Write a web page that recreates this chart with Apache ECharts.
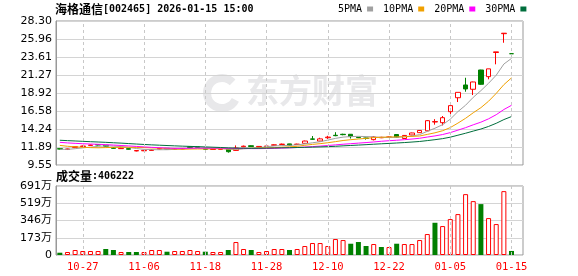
<!DOCTYPE html>
<html>
<head>
<meta charset="utf-8">
<script src="https://cdn.jsdelivr.net/npm/echarts@6/dist/echarts.min.js"></script>
<style>
html, body { margin: 0; padding: 0; background: #fff; }
#main { width: 578px; height: 276px; }
</style>
</head>
<body>
<div id="main"></div>
<script>
// trading days shown
var dates = ['10-22','10-23','10-24','10-27','10-28','10-29','10-30','10-31',
  '11-03','11-04','11-05','11-06','11-07','11-10','11-11','11-12','11-13','11-14',
  '11-17','11-18','11-19','11-20','11-21','11-24','11-25','11-26','11-27','11-28',
  '12-01','12-02','12-03','12-04','12-05','12-08','12-09','12-10','12-11','12-12',
  '12-15','12-16','12-17','12-18','12-19','12-22','12-23','12-24','12-25','12-26',
  '12-29','12-30','12-31','01-05','01-06','01-07','01-08','01-09','01-12','01-13',
  '01-14','01-15'];

var opens = [11.68,11.58,11.85,11.95,12.10,12.20,12.12,11.80,11.68,11.68,
  11.38,11.40,11.45,11.62,11.72,11.58,11.64,11.90,11.90,11.72,
  11.57,11.60,11.60,11.45,11.92,12.06,11.90,11.95,12.12,12.22,
  12.30,12.22,12.37,12.95,12.67,13.10,13.42,13.55,13.55,13.16,
  13.06,12.85,13.10,13.15,13.52,13.00,13.46,13.76,14.00,15.15,
  15.06,16.49,18.31,19.97,19.41,21.92,21.05,24.20,26.65,24.04];
var closes = [11.62,11.64,11.93,12.02,12.15,12.16,12.00,11.72,11.74,11.60,
  11.43,11.46,11.50,11.70,11.62,11.65,11.70,11.85,11.86,11.60,
  11.62,11.64,11.28,11.75,12.00,11.96,11.97,12.02,12.18,12.27,
  12.10,12.27,12.67,12.90,12.95,13.18,13.37,13.50,13.25,13.11,
  13.02,13.20,13.15,13.20,13.17,13.40,13.72,14.05,15.32,15.20,
  15.71,17.28,19.01,19.45,20.36,20.06,22.07,24.28,26.71,24.04];
var lows = [11.58,11.50,11.82,11.90,12.06,12.10,11.96,11.68,11.64,11.55,
  11.33,11.36,11.40,11.58,11.58,11.55,11.60,11.80,11.82,11.56,
  11.54,11.58,11.16,11.40,11.88,11.92,11.86,11.92,12.08,12.18,
  12.05,12.18,12.33,12.82,12.60,12.95,13.30,13.42,13.00,13.05,
  12.85,12.75,13.05,13.10,13.12,12.95,13.42,13.72,13.95,14.80,
  14.70,15.97,17.75,19.09,18.66,20.00,20.71,22.66,25.47,24.04];
var highs = [11.72,11.68,11.97,12.08,12.20,12.26,12.16,11.84,11.80,11.70,
  11.48,11.50,11.58,11.78,11.76,11.70,11.75,11.93,11.92,11.76,
  11.66,11.68,11.62,12.10,12.08,12.10,12.00,12.06,12.24,12.34,
  12.32,12.32,12.72,13.32,13.10,13.35,13.82,13.62,13.58,13.20,
  13.10,13.30,13.22,13.26,13.55,13.45,13.76,14.10,15.40,15.52,
  15.93,17.28,19.01,20.91,20.40,21.95,22.07,24.28,26.71,24.04];
// volume, shares (手)
var volumes = [230000,300000,500000,400000,400000,400000,600000,500000,300000,300000,
  300000,300000,500000,500000,330000,400000,400000,500000,400000,330000,
  300000,300000,500000,1300000,600000,500000,300000,400000,600000,600000,
  500000,600000,900000,1200000,1200000,900000,1600000,1500000,1130000,1300000,
  900000,1100000,800000,800000,1130000,1100000,1100000,1500000,2100000,3230000,
  2900000,3600000,4100000,6100000,5400000,5100000,3700000,3100000,6400000,406222];
// closes of the 29 sessions before 10-22 (only feed the moving averages)
var priorCloses = [13.10,13.25,13.40,13.50,13.45,13.30,13.35,13.20,13.30,13.25,
  13.15,13.05,13.00,12.95,12.90,12.85,12.80,12.85,12.75,12.70,
  12.75,12.70,12.60,12.55,12.40,11.75,11.45,11.50,11.70];

var priceTicks = ['9.55','11.89','14.24','16.58','18.92','21.27','23.61','25.96','28.30'];
var volTicks = ['0','173万','346万','519万','691万'];

var maNames = ['5PMA','10PMA','20PMA','30PMA'];
var maDays = [5,10,20,30];
var maColors = ['#a0a0a0','#f0a000','#ff00ff','#006e3c'];

function calcMA(n) {
  var all = priorCloses.concat(closes);
  var off = priorCloses.length;
  return closes.map(function (c, i) {
    var s = 0;
    for (var k = 0; k < n; k++) s += all[off + i - k];
    return +(s / n).toFixed(3);
  });
}

var kData = dates.map(function (d, i) {
  return [opens[i], closes[i], lows[i], highs[i]];
});

var volData = volumes.map(function (v, i) {
  var prev = i === 0 ? priorCloses[priorCloses.length - 1] : closes[i - 1];
  if (closes[i] >= prev) {
    return { value: v, itemStyle: { color: '#ffffff', borderColor: '#ff0000', borderWidth: 1 } };
  }
  return { value: v, itemStyle: { color: '#008000', borderColor: '#008000', borderWidth: 0 } };
});

var showIdx = function (i) { return i >= 3 && (i - 3) % 8 === 0 && i < dates.length; };
var markDates = dates.filter(function (d, i) { return showIdx(i); });
var cats = dates.concat(['']);

var vLines = {
  silent: true,
  symbol: 'none',
  animation: false,
  label: { show: false },
  lineStyle: { type: [3, 3], color: '#c8c8c8', width: 1 },
  emphasis: { disabled: true },
  data: markDates.map(function (d) { return { xAxis: d }; })
};

var chartDom = document.getElementById('main');
var myChart = echarts.init(chartDom, null, { renderer: 'canvas' });
var option;
option = {
  animation: false,
  backgroundColor: '#ffffff',
  title: [
    {
      left: 55, top: 3, padding: 0,
      text: '{a|海格通信}{b|[002465] 2026-01-15 15:00}',
      textStyle: {
        rich: {
          a: { fontFamily: 'Noto Sans CJK SC', fontSize: 12, color: '#000' },
          b: { fontFamily: 'DejaVu Sans Mono', fontSize: 10, color: '#000' }
        }
      }
    },
    {
      left: 56, top: 170, padding: 0,
      text: '{a|成交量}{b|:' + volumes[volumes.length - 1] + '}',
      textStyle: {
        rich: {
          a: { fontFamily: 'Noto Sans CJK SC', fontSize: 12, color: '#000' },
          b: { fontFamily: 'DejaVu Sans Mono', fontSize: 10, color: '#000' }
        }
      }
    }
  ],
  legend: {
    left: 338, top: 4, padding: 0,
    icon: 'rect', itemWidth: 6, itemHeight: 5, itemGap: 10,
    align: 'right',
    selectedMode: false,
    textStyle: { fontFamily: 'DejaVu Sans Mono', fontSize: 10, color: '#000' },
    data: maNames
  },
  graphic: [
    {
      type: 'arc', z: -1, silent: true,
      shape: { cx: 222, cy: 93, r: 15, startAngle: Math.PI * 0.15, endAngle: Math.PI * 1.75 },
      style: { stroke: '#e8e8ea', lineWidth: 8, fill: null }
    },
    {
      type: 'text', left: 246, top: 74, z: -1, silent: true,
      style: { text: '东方财富', font: 'bold 33px "Noto Sans CJK SC"', fill: '#e8e8ea' }
    }
  ],
  grid: [
    { left: 56, top: 21, width: 467, height: 144, show: true, borderColor: '#999', borderWidth: 1, backgroundColor: 'transparent' },
    { left: 56, top: 186, width: 467, height: 69, show: true, borderColor: '#999', borderWidth: 1, backgroundColor: 'transparent' }
  ],
  xAxis: [
    {
      type: 'category', gridIndex: 0, data: cats, boundaryGap: true,
      axisLine: { show: false }, axisTick: { show: false },
      axisLabel: { show: false }, splitLine: { show: false }
    },
    {
      type: 'category', gridIndex: 1, data: cats, boundaryGap: true,
      axisLine: { show: false }, axisTick: { show: false },
      axisLabel: {
        color: '#ff0000', fontFamily: 'DejaVu Sans Mono', fontSize: 10.5, margin: 7,
        interval: function (i) { return showIdx(i); }
      },
      splitLine: { show: false }
    }
  ],
  yAxis: [
    {
      type: 'value', gridIndex: 0, min: 9.55, max: 28.3, interval: 2.34375,
      axisLine: { show: true, lineStyle: { color: '#999' } },
      axisTick: { show: false },
      axisLabel: {
        color: '#000', fontFamily: 'DejaVu Sans', fontSize: 11, margin: 4,
        formatter: function (v) { return priceTicks[Math.round((v - 9.55) / 2.34375)]; }
      },
      splitLine: { lineStyle: { color: '#d4d4d4' } }
    },
    {
      type: 'value', gridIndex: 1, min: 0, max: 6915000, interval: 1728750,
      axisLine: { show: true, lineStyle: { color: '#999' } },
      axisTick: { show: false },
      axisLabel: {
        color: '#000', fontFamily: 'DejaVu Sans, Noto Sans CJK SC', fontSize: 11, margin: 4,
        formatter: function (v) { return volTicks[Math.round(v / 1728750)]; }
      },
      splitLine: { lineStyle: { color: '#d4d4d4' } }
    }
  ],
  series: [
    {
      name: 'K', type: 'candlestick', xAxisIndex: 0, yAxisIndex: 0,
      barWidth: 5,
      data: kData,
      itemStyle: {
        color: '#ffffff', color0: '#008000',
        borderColor: '#ff0000', borderColor0: '#008000', borderWidth: 1
      },
      markLine: vLines
    },
    {
      name: 'VOL', type: 'bar', xAxisIndex: 1, yAxisIndex: 1,
      barWidth: 5,
      data: volData,
      markLine: vLines
    }
  ]
};

maNames.forEach(function (name, k) {
  option.series.push({
    name: name, type: 'line', xAxisIndex: 0, yAxisIndex: 0,
    data: calcMA(maDays[k]),
    symbol: 'none', showSymbol: false, smooth: false,
    lineStyle: { width: 1, color: maColors[k] },
    itemStyle: { color: maColors[k] },
    z: 3
  });
});

option && myChart.setOption(option);
</script>
</body>
</html>
